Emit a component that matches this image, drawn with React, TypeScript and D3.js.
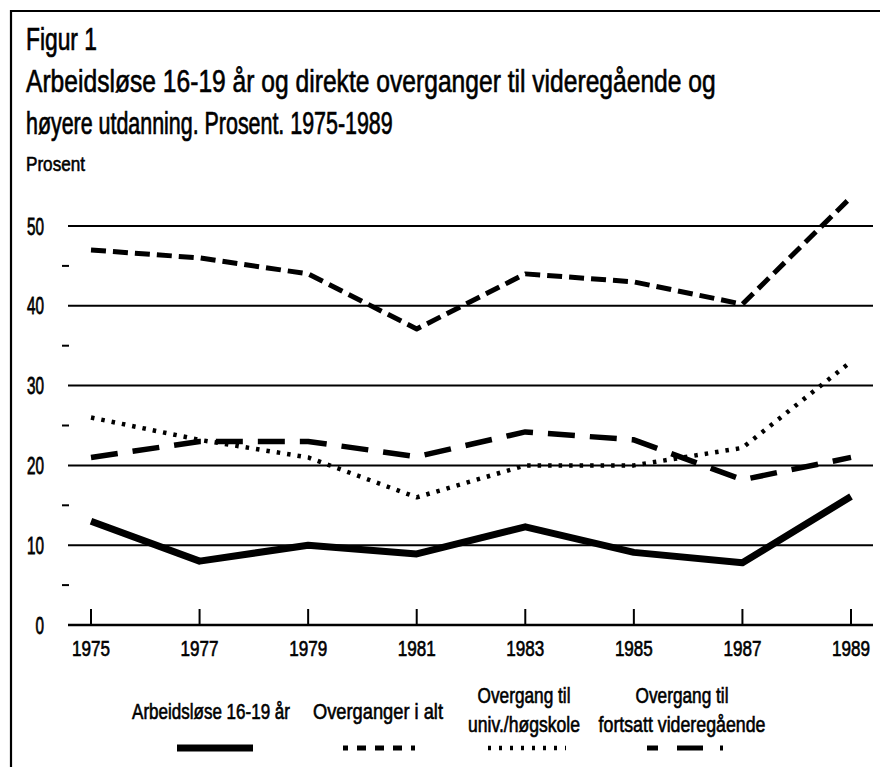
import React, { useLayoutEffect, useRef, useState } from "react";
import * as d3 from "d3";

const years = [1975, 1977, 1979, 1981, 1983, 1985, 1987, 1989];
const arbeidslose = [13, 8, 10, 8.9, 12.3, 9.1, 7.8, 16.1];
const overgangerIAlt = [47, 46, 44, 37.1, 44, 43, 40.2, 53.6];
const univHogskole = [26, 23.2, 21, 16, 20, 20, 22.2, 33];
const fortsattVgs = [21, 23, 23, 21.1, 24.2, 23.2, 18.2, 21];
const yTicks = [0, 10, 20, 30, 40, 50];
const yMinor = [5, 15, 25, 35, 45];

const titleLines = [
  "Figur 1",
  "Arbeidsløse 16-19 år og direkte overganger til videregående og",
  "høyere utdanning. Prosent. 1975-1989",
];
const unitLabel = "Prosent";

const FONT = "'Liberation Sans Narrow', 'Liberation Sans', Arial, sans-serif";

type FitProps = {
  x: number;
  y: number;
  width: number;
  size: number;
  anchor?: "start" | "middle" | "end";
  children: string;
};

function FitText({ x, y, width, size, anchor = "start", children }: FitProps) {
  const ref = useRef<SVGTextElement>(null);
  const [sx, setSx] = useState(1);
  useLayoutEffect(() => {
    if (ref.current) {
      const n = ref.current.getComputedTextLength();
      if (n > 0) setSx(width / n);
    }
  }, [width, children, size]);
  return (
    <g transform={`translate(${x},${y}) scale(${sx},1)`}>
      <text
        ref={ref}
        x={0}
        y={0}
        fontSize={size}
        textAnchor={anchor}
        stroke="#000"
        strokeWidth={0.5 / Math.max(sx, 0.3)}
      >
        {children}
      </text>
    </g>
  );
}

export default function App() {
  const W = 880;
  const H = 767;
  const x = d3.scaleLinear().domain([1975, 1989]).range([91, 851]);
  const y = d3.scaleLinear().domain([0, 50]).range([625, 226]);

  const mk = (vals: number[]) =>
    d3
      .line<number>()
      .x((_, i) => x(years[i]))
      .y((v) => y(v))
      .curve(d3.curveLinear)(vals) || "";

  const series = [
    { vals: arbeidslose, w: 7, dash: "none" },
    { vals: overgangerIAlt, w: 5, dash: "15 7" },
    { vals: univHogskole, w: 4.5, dash: "3.5 7" },
    { vals: fortsattVgs, w: 5.5, dash: "27 15" },
  ];

  const legend = [
    { lines: ["Arbeidsløse 16-19 år"], widths: [158], cx: 211, sx1: 177, sx2: 253, w: 7, dash: "none", off: 0 },
    { lines: ["Overganger i  alt"], widths: [130], cx: 378, sx1: 343, sx2: 415, w: 5, dash: "9 9", off: 4 },
    { lines: ["Overgang til", "univ./høgskole"], widths: [93, 112], cx: 524, sx1: 488, sx2: 566, w: 4.5, dash: "3 8", off: 0 },
    { lines: ["Overgang til", "fortsatt videregående"], widths: [93, 167], cx: 682, sx1: 647, sx2: 723, w: 5, dash: "11 19 26 17 3 30", off: 0 },
  ];

  return (
    <svg
      width={W}
      height={H}
      style={{ position: "absolute", left: 0, top: 0, display: "block", background: "#fff" }}
      fontFamily={FONT}
    >
      <rect x={0} y={0} width={W} height={H} fill="#fff" />
      {/* frame */}
      <line x1={11} y1={11} x2={W} y2={11} stroke="#000" strokeWidth={2.2} />
      <line x1={11} y1={10} x2={11} y2={H} stroke="#000" strokeWidth={2.2} />

      {/* titles */}
      <FitText x={26} y={50} width={71} size={32}>{titleLines[0]}</FitText>
      <FitText x={26} y={92} width={690} size={31}>{titleLines[1]}</FitText>
      <FitText x={26} y={134} width={367} size={31}>{titleLines[2]}</FitText>
      <FitText x={26} y={171} width={59} size={20}>{unitLabel}</FitText>

      {/* grid */}
      {yTicks.map((t) => (
        <g key={"g" + t}>
          <line x1={68} x2={873} y1={y(t)} y2={y(t)} stroke="#000" strokeWidth={t === 0 ? 2.5 : 2} />
          <FitText x={44} y={y(t) + 8.5} width={String(t).length * 8.5} size={24} anchor="end">
            {String(t)}
          </FitText>
        </g>
      ))}
      {yMinor.map((t) => (
        <line key={"m" + t} x1={62} x2={69} y1={y(t)} y2={y(t)} stroke="#000" strokeWidth={2} />
      ))}

      {/* x ticks */}
      {years.map((yr) => (
        <g key={"x" + yr}>
          <line x1={x(yr)} x2={x(yr)} y1={609} y2={625} stroke="#000" strokeWidth={2} />
          <FitText x={x(yr)} y={656} width={38} size={21.5} anchor="middle">
            {String(yr)}
          </FitText>
        </g>
      ))}

      {/* series */}
      {series.map((s, i) => (
        <path
          key={"s" + i}
          d={mk(s.vals)}
          fill="none"
          stroke="#000"
          strokeWidth={s.w}
          strokeDasharray={s.dash}
          strokeLinejoin="round"
        />
      ))}

      {/* legend */}
      {legend.map((l, i) => (
        <g key={"l" + i}>
          {l.lines.length === 1 ? (
            <FitText x={l.cx} y={719} width={l.widths[0]} size={22} anchor="middle">
              {l.lines[0]}
            </FitText>
          ) : (
            l.lines.map((t, j) => (
              <FitText key={j} x={l.cx} y={703 + j * 29} width={l.widths[j]} size={22} anchor="middle">
                {t}
              </FitText>
            ))
          )}
          <line
            x1={l.sx1}
            x2={l.sx2}
            y1={748}
            y2={748}
            stroke="#000"
            strokeWidth={l.w}
            strokeDasharray={l.dash}
            strokeDashoffset={l.off}
          />
        </g>
      ))}
    </svg>
  );
}
